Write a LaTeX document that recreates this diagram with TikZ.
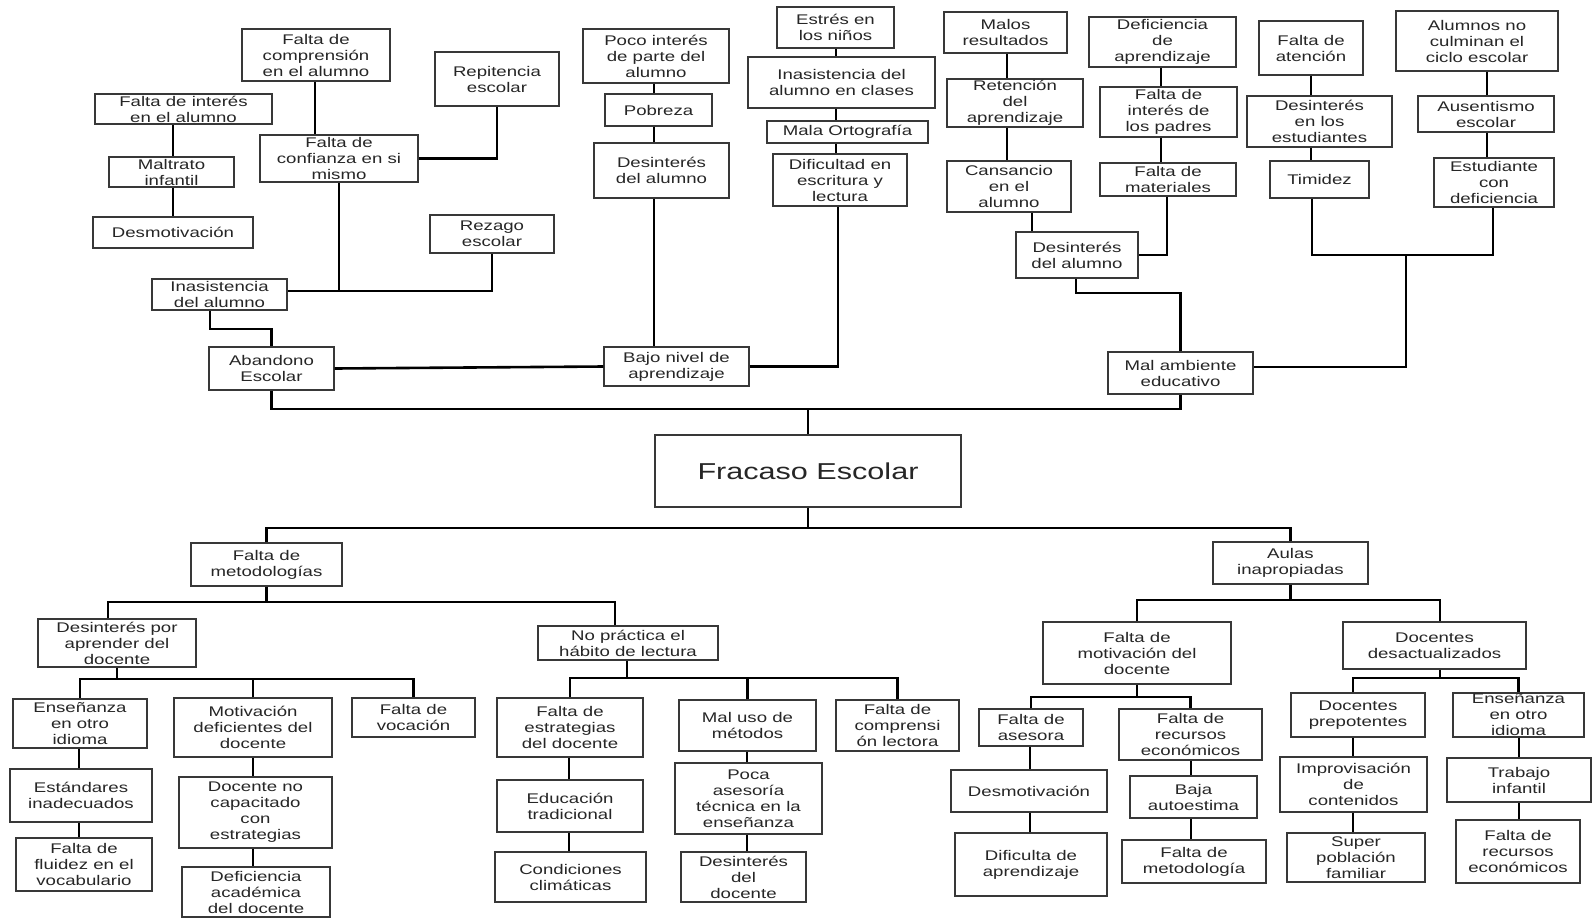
\documentclass[tikz,border=0pt]{standalone}
\usepackage{fontspec}
\setmainfont{Liberation Sans}[FakeStretch=1.33]
\usetikzlibrary{fit}
\definecolor{boxc}{HTML}{383838}
\definecolor{txtc}{HTML}{262626}
\newcommand\mybox[6]{\node[box, fit={(#2,#3) (#4,#5)}] (#1) {};
  \node[lbl] (#1t) at (#1.center) {#6};}
\newcommand\myvc[3]{\path (#3,0) coordinate (vcx);
  \draw[conn] (#1.south -| vcx) -- (#2.north -| vcx);}
\begin{document}
\begin{tikzpicture}[x=1pt,y=-1pt,
  box/.style={draw=boxc, line width=1.3pt, inner sep=0pt},
  lbl/.style={align=center, inner sep=0pt, text=txtc, font=\fontsize{14}{16}\selectfont},
  conn/.style={line width=2.6pt, draw=black}]
\fill[white] (0,0) rectangle (1593,919);
\useasboundingbox (0,0) rectangle (1593,919);

% ---------- top left
\mybox{fi}{95}{94}{272}{124}{Falta de interés\\en el alumno}
\mybox{mt}{109}{157}{234}{187}{Maltrato\\infantil}
\mybox{dm1}{93}{217}{253}{248}{Desmotivación}
\mybox{fc}{242}{29}{390}{81}{Falta de\\comprensión\\en el alumno}
\mybox{cf}{260}{135}{418}{182}{Falta de\\confianza en si\\mismo}
\mybox{rp}{435}{52}{559}{106}{Repitencia\\escolar}
\mybox{rz}{430}{215}{554}{253}{Rezago\\escolar}
\mybox{ia}{152}{279}{287}{310}{Inasistencia\\del alumno}
\mybox{ab}{209}{347}{334}{390}{Abandono\\Escolar}

% ---------- top middle
\mybox{pi}{583}{29}{729}{83}{Poco interés\\de parte del\\alumno}
\mybox{pb}{605}{94}{712}{126}{Pobreza}
\mybox{da}{594}{143}{729}{198}{Desinterés\\del alumno}
\mybox{bn}{604}{347}{749}{386}{Bajo nivel de\\aprendizaje}
\mybox{es}{777}{7}{894}{48}{Estrés en\\los niños}
\mybox{ic}{748}{57}{935}{108}{Inasistencia del\\alumno en clases}
\mybox{mo}{767}{121}{928}{143}{Mala Ortografía}
\mybox{de}{773}{154}{907}{206}{Dificultad en\\escritura y\\lectura}

% ---------- top right
\mybox{mr}{944}{12}{1067}{53}{Malos\\resultados}
\mybox{ra}{947}{79}{1083}{127}{Retención\\del\\aprendizaje}
\mybox{ca}{947}{161}{1071}{212}{Cansancio\\en el\\alumno}
\mybox{da2}{1016}{232}{1138}{278}{Desinterés\\del alumno}
\mybox{dfa}{1089}{17}{1236}{67}{Deficiencia\\de\\aprendizaje}
\mybox{fp}{1100}{87}{1237}{137}{Falta de\\interés de\\los padres}
\mybox{fm}{1100}{163}{1236}{196}{Falta de\\materiales}
\mybox{fat}{1259}{21}{1363}{75}{Falta de\\atención}
\mybox{de2}{1247}{96}{1392}{147}{Desinterés\\en los\\estudiantes}
\mybox{ti}{1270}{161}{1369}{198}{Timidez}
\mybox{an}{1396}{11}{1558}{71}{Alumnos no\\culminan el\\ciclo escolar}
\mybox{au}{1418}{96}{1554}{132}{Ausentismo\\escolar}
\mybox{ed}{1434}{158}{1554}{207}{Estudiante\\con\\deficiencia}
\mybox{ma}{1108}{352}{1253}{394}{Mal ambiente\\educativo}

% ---------- centre
\node[box, fit={(655,435) (961,507)}] (fe) {};
\node[lbl, font=\fontsize{23}{26}\selectfont] (fet) at (fe.center) {Fracaso Escolar};

% ---------- bottom
\mybox{fmet}{191}{543}{342}{586}{Falta de\\metodologías}
\mybox{aul}{1213}{542}{1368}{584}{Aulas\\inapropiadas}
\mybox{dpa}{38}{619}{196}{667}{Desinterés por\\aprender del\\docente}
\mybox{np}{538}{626}{718}{660}{No práctica el\\hábito de lectura}
\mybox{en1}{13}{699}{147}{748}{Enseñanza\\en otro\\idioma}
\mybox{md}{174}{698}{332}{757}{Motivación\\deficientes del\\docente}
\mybox{fv}{352}{698}{475}{737}{Falta de\\vocación}
\mybox{ei}{10}{769}{152}{822}{Estándares\\inadecuados}
\mybox{ff}{16}{838}{152}{891}{Falta de\\fluidez en el\\vocabulario}
\mybox{dn}{179}{777}{332}{848}{Docente no\\capacitado\\con\\estrategias}
\mybox{dac}{182}{867}{330}{917}{Deficiencia\\académica\\del docente}
\mybox{fes}{497}{698}{643}{757}{Falta de\\estrategias\\del docente}
\mybox{et}{497}{780}{643}{832}{Educación\\tradicional}
\mybox{cc}{495}{852}{646}{902}{Condiciones\\climáticas}
\mybox{mu}{679}{700}{816}{751}{Mal uso de\\métodos}
\mybox{pa}{675}{763}{822}{834}{Poca\\asesoría\\técnica en la\\enseñanza}
\mybox{dd}{681}{852}{806}{902}{Desinterés\\del\\docente}
\mybox{fcl}{836}{700}{959}{751}{Falta de\\comprensi\\ón lectora}
\mybox{fmd}{1043}{622}{1231}{684}{Falta de\\motivación del\\docente}
\mybox{dsa}{1343}{622}{1526}{669}{Docentes\\desactualizados}
\mybox{fas}{979}{709}{1083}{746}{Falta de\\asesora}
\mybox{fre}{1119}{709}{1262}{760}{Falta de\\recursos\\económicos}
\mybox{dm2}{951}{770}{1107}{812}{Desmotivación}
\mybox{dap}{955}{833}{1107}{896}{Dificulta de\\aprendizaje}
\mybox{ba}{1130}{776}{1257}{818}{Baja\\autoestima}
\mybox{fmt}{1122}{840}{1266}{883}{Falta de\\metodología}
\mybox{dp}{1291}{693}{1425}{737}{Docentes\\prepotentes}
\mybox{en2}{1453}{693}{1584}{737}{Enseñanza\\en otro\\idioma}
\mybox{ic2}{1280}{757}{1427}{812}{Improvisación\\de\\contenidos}
\mybox{sp}{1287}{833}{1425}{882}{Super\\población\\familiar}
\mybox{tin}{1447}{758}{1591}{802}{Trabajo\\infantil}
\mybox{fr2}{1456}{820}{1580}{883}{Falta de\\recursos\\económicos}

% ---------- connectors, top left
\myvc{fi}{mt}{173}
\myvc{mt}{dm1}{173}
\myvc{fc}{cf}{315}
\coordinate (c497) at (497,0);
\draw[conn] (rp.south -| c497) |- (cf.east);
\coordinate (c339) at (339,0);
\coordinate (c492) at (492,0);
\coordinate (h1) at (0,291);
\draw[conn] (ia.east |- h1) -| (rz.south -| c492);
\draw[conn] (cf.south -| c339) -- (c339 |- h1);
\coordinate (c210) at (210,0);
\coordinate (h2) at (ab.north |- 0,329);
\draw[conn] (ia.south -| c210) |- (h2) -- (ab.north);

% ---------- connectors, top middle
\myvc{pi}{pb}{654}
\myvc{pb}{da}{654}
\myvc{da}{bn}{654}
\draw[conn] (ab.east) -- (bn.west);
\myvc{es}{ic}{836}
\myvc{ic}{mo}{836}
\myvc{mo}{de}{836}
\coordinate (c838) at (838,0);
\draw[conn] (bn.east) -| (de.south -| c838);

% ---------- connectors, top right
\myvc{mr}{ra}{1007}
\myvc{ra}{ca}{1007}
\myvc{ca}{da2}{1032}
\myvc{dfa}{fp}{1161}
\myvc{fp}{fm}{1161}
\coordinate (c1167) at (1167,0);
\draw[conn] (fm.south -| c1167) |- (da2.east);
\coordinate (c1076) at (1076,0);
\coordinate (h3) at (0,293);
\draw[conn] (da2.south -| c1076) |- (ma.north |- h3) -- (ma.north);
\myvc{fat}{de2}{1311}
\myvc{de2}{ti}{1311}
\myvc{an}{au}{1487}
\myvc{au}{ed}{1487}
\coordinate (jr) at (1406,255);
\coordinate (c1312) at (1312,0);
\coordinate (c1493) at (1493,0);
\draw[conn] (ti.south -| c1312) |- (jr) -| (ed.south -| c1493);
\coordinate (h4) at (0,367);
\draw[conn] (jr) |- (ma.east |- h4);

\coordinate (jt) at (fe.north |- 0,409);
\draw[conn] (ab.south) |- (jt) -- (fe.north);
\draw[conn] (ma.south) |- (jt);

% ---------- connectors, bottom
\coordinate (jb) at (fe.south |- 0,528);
\draw[conn] (fe.south) -- (jb);
\draw[conn] (fmet.north) |- (jb) -| (aul.north);

\coordinate (y602) at (0,602);
\draw[conn] (fmet.south) -- (fmet.south |- y602);
\coordinate (c108) at (108,0);
\coordinate (c615) at (615,0);
\draw[conn] (dpa.north -| c108) |- (c615 |- y602) -- (np.north -| c615);

\coordinate (y679) at (0,679);
\coordinate (c117) at (117,0);
\draw[conn] (dpa.south -| c117) -- (c117 |- y679);
\draw[conn] (en1.north) |- (fv.north |- y679) -- (fv.north);
\draw[conn] (md.north) -- (md.north |- y679);
\myvc{en1}{ei}{79}
\myvc{ei}{ff}{79}
\myvc{md}{dn}{253}
\myvc{dn}{dac}{253}

\coordinate (y678) at (0,678);
\coordinate (c627) at (627,0);
\draw[conn] (np.south -| c627) -- (c627 |- y678);
\draw[conn] (fes.north) |- (fcl.north |- y678) -- (fcl.north);
\draw[conn] (mu.north) -- (mu.north |- y678);
\myvc{fes}{et}{569}
\myvc{et}{cc}{569}
\myvc{mu}{pa}{747}
\myvc{pa}{dd}{747}

\coordinate (y600) at (0,600);
\coordinate (c1440) at (1440,0);
\draw[conn] (aul.south) -- (aul.south |- y600);
\draw[conn] (fmd.north) |- (c1440 |- y600) -- (dsa.north -| c1440);
\coordinate (y697) at (0,697);
\draw[conn] (fmd.south) -- (fmd.south |- y697);
\draw[conn] (fas.north) |- (fre.north |- y697) -- (fre.north);
\myvc{fas}{dm2}{1030}
\myvc{dm2}{dap}{1030}
\myvc{fre}{ba}{1191}
\myvc{ba}{fmt}{1191}
\draw[conn] (dsa.south -| c1440) -- (c1440 |- y678);
\coordinate (c1353) at (1353,0);
\draw[conn] (dp.north -| c1353) |- (en2.north |- y678) -- (en2.north);
\myvc{dp}{ic2}{1353}
\myvc{ic2}{sp}{1353}
\myvc{en2}{tin}{1519}
\myvc{tin}{fr2}{1519}
\end{tikzpicture}
\end{document}
